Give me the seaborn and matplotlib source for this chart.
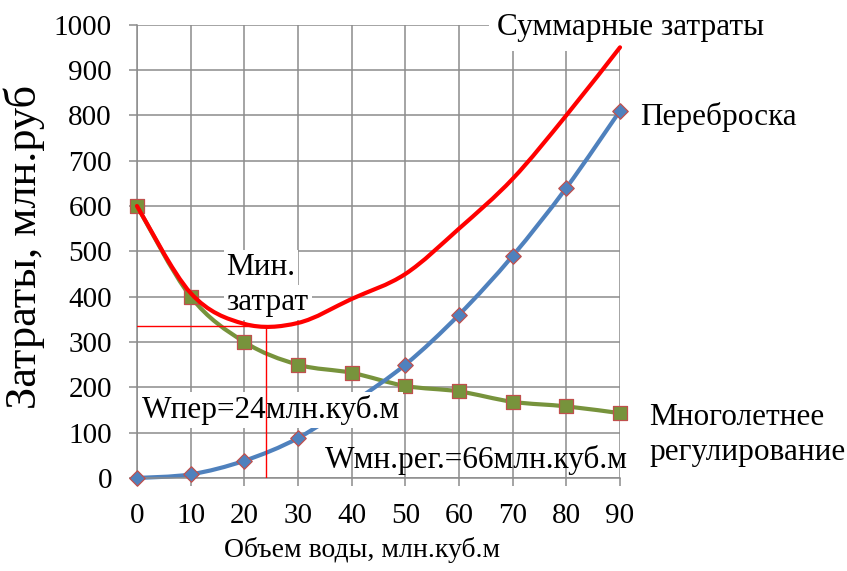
import numpy as np
import pandas as pd
import matplotlib
matplotlib.use("Agg")
import matplotlib.pyplot as plt
from matplotlib.path import Path
from matplotlib.patches import PathPatch
import seaborn as sns

# Water volume, mln m3
volume = [0, 10, 20, 30, 40, 50, 60, 70, 80, 90]
# Costs, mln rub
transfer = [0, 8, 38, 88, 165, 250, 360, 490, 640, 810]
multiyear = [600, 400, 300, 250, 232, 203, 191, 168, 158, 143]
total = [600, 408, 340, 342, 395, 450, 550, 660, 800, 950]

# Optimum point
w_opt = 24
cost_min = 335

x_ticks = list(range(0, 91, 10))
y_ticks = list(range(0, 1001, 100))

sns.set_theme(style="white")
plt.rcParams["font.family"] = ["Liberation Serif", "DejaVu Serif"]

BLUE = "#4F81BD"
GREEN = "#77933C"
RED = "#FF0000"
EDGE = "#C0504D"
GRID = "#8C8C8C"


def smooth_path(xs, ys):
    """Bezier path through the points (spline-like smoothing of a polyline)."""
    pts = np.column_stack([xs, ys]).astype(float)
    n = len(pts)
    verts = [pts[0]]
    codes = [Path.MOVETO]
    for i in range(n - 1):
        p0 = pts[i - 1] if i > 0 else pts[i]
        p1 = pts[i]
        p2 = pts[i + 1]
        p3 = pts[i + 2] if i + 2 < n else pts[i + 1]
        verts += [p1 + (p2 - p0) / 6.0, p2 - (p3 - p1) / 6.0, p2]
        codes += [Path.CURVE4] * 3
    return Path(verts, codes)


df = pd.DataFrame({"volume": volume, "transfer": transfer,
                   "multiyear": multiyear, "total": total})

fig = plt.figure(figsize=(8.47, 5.71), dpi=100)
ax = fig.add_axes([0.1617, 0.1629, 0.5703, 0.7939])
ax.set_xlim(0, 90)
ax.set_ylim(0, 1000)
ax.set_xticks(x_ticks)
ax.set_yticks(y_ticks)

ax.grid(True, color=GRID, lw=1.1, zorder=0.5)
ax.set_axisbelow(True)
for side in ("top", "right"):
    ax.spines[side].set_visible(False)
for side in ("left", "bottom"):
    ax.spines[side].set_color(GRID)
    ax.spines[side].set_linewidth(1.1)
ax.tick_params(axis="both", which="major", direction="out", length=6,
               width=1.1, color=GRID, labelsize=21, labelcolor="black", pad=12,
               left=True, bottom=True)

# Smoothed curves
for col, color, z in (("multiyear", GREEN, 2), ("transfer", BLUE, 2.2), ("total", RED, 4)):
    ax.add_patch(PathPatch(smooth_path(df["volume"], df[col]), fill=False,
                           edgecolor=color, lw=3.0, capstyle="round",
                           joinstyle="round", zorder=z, clip_on=False))

# Markers
sns.scatterplot(data=df, x="volume", y="multiyear", marker="s", s=112,
                color=GREEN, edgecolor=EDGE, linewidth=0.9, ax=ax,
                zorder=3, clip_on=False, legend=False)
sns.scatterplot(data=df, x="volume", y="transfer", marker="D", s=62,
                color=BLUE, edgecolor=EDGE, linewidth=0.9, ax=ax,
                zorder=3.2, clip_on=False, legend=False)

ax.set_xlabel("Объем воды, млн.куб.м", fontsize=20, color="black")
ax.set_ylabel("Затраты, млн.руб", fontsize=32, color="black")
ax.xaxis.set_label_coords(0.466, -0.130)
ax.yaxis.set_label_coords(-0.19, 0.51)

box = dict(facecolor="white", edgecolor="none", pad=2)
txt = dict(fontsize=22.5, color="black", ha="left", va="baseline", zorder=3.5,
           clip_on=False)

ax.text(67.1, 977, "Суммарные затраты", bbox=dict(facecolor="white",
        edgecolor="none", pad=6), **txt)
ax.text(93.7, 779, "Переброска", **txt)
ax.text(95.4, 117, "Многолетнее", **txt)
ax.text(95.4, 40, "регулирование", **txt)
ax.text(16.7, 448, "Мин.", bbox=box, **txt)
ax.text(16.7, 371, "затрат", bbox=box, **txt)
ax.text(0.9, 132, f"Wпер={w_opt}млн.куб.м", bbox=box, **txt)
ax.text(35.0, 22, "Wмн.рег.=66млн.куб.м", **txt)

# Minimum-cost guide lines
ax.plot([0, w_opt], [cost_min, cost_min], color=RED, lw=1, zorder=6)
ax.plot([w_opt, w_opt], [0, cost_min], color=RED, lw=1, zorder=6)

fig.savefig("out.png", dpi=100, facecolor="white")
